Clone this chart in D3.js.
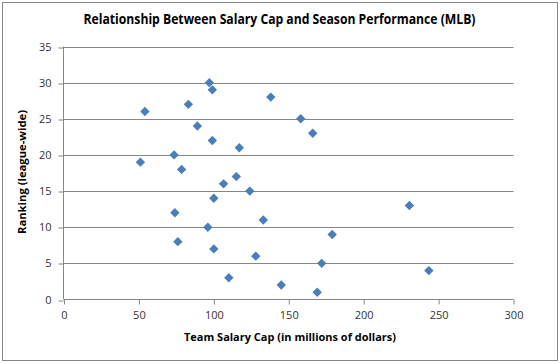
<!DOCTYPE html>
<html>
<head>
<meta charset="utf-8">
<script src="https://cdn.jsdelivr.net/npm/d3@7"></script>
<style>
  html, body { margin: 0; padding: 0; background: #fff; }
  svg { display: block; }
  text { font-family: "Open Sans", "Liberation Sans", sans-serif; }
</style>
</head>
<body>
<svg id="chart" width="560" height="364"></svg>
<script>
const salaryCap = [97, 99, 138, 83, 54, 158, 89, 166, 99, 117, 73.5, 51, 78.5, 115, 106.5, 124, 100, 230.5, 74, 133, 96, 179, 76, 100, 128, 172, 243.5, 110, 145, 169];
const ranking   = [30, 29, 28, 27, 26, 25, 24, 23, 22, 21, 20, 19, 18, 17, 16, 15, 14, 13, 12, 11, 10, 9, 8, 7, 6, 5, 4, 3, 2, 1];
const xTicks = [0, 50, 100, 150, 200, 250, 300];
const yTicks = [0, 5, 10, 15, 20, 25, 30, 35];
const titleText = "Relationship Between Salary Cap and Season Performance (MLB)";
const xTitle = "Team Salary Cap (in millions of dollars)";
const yTitle = "Ranking (league-wide)";

const svg = d3.select("#chart");
const grey = "#868686";
const labelColor = "#333";

svg.append("rect").attr("x", 2.5).attr("y", 2.5).attr("width", 555).attr("height", 358)
  .attr("fill", "#fff").attr("stroke", grey).attr("stroke-width", 1);

const x = d3.scaleLinear().domain([0, 300]).range([64, 513.5]);
const y = d3.scaleLinear().domain([0, 35]).range([299.5, 46.5]);

// gridlines
svg.append("g").selectAll("line").data(yTicks.filter(d => d > 0)).join("line")
  .attr("x1", x(0)).attr("x2", x(300))
  .attr("y1", d => Math.round(y(d)) + 0.5).attr("y2", d => Math.round(y(d)) + 0.5)
  .attr("stroke", grey).attr("stroke-width", 1);

// y axis
const yAxis = svg.append("g").attr("transform", `translate(${Math.round(x(0)) - 0.5},0)`)
  .call(d3.axisLeft(y).tickValues(yTicks).tickSize(5).tickPadding(7).tickFormat(d3.format("d")));
yAxis.select(".domain").attr("stroke", grey).attr("d", `M0,${y(35)}V${y(0)}`);
yAxis.selectAll(".tick line").attr("stroke", grey)
  .attr("transform", d => `translate(0,${Math.round(y(d)) + 0.5 - y(d)})`);
yAxis.selectAll(".tick text").attr("fill", labelColor).style("font-size", "11px")
  .style("font-family", "'Open Sans', 'Liberation Sans', sans-serif");

// x axis
const xAxis = svg.append("g").attr("transform", `translate(0,${Math.round(y(0)) - 0.5})`)
  .call(d3.axisBottom(x).tickValues(xTicks).tickSize(5).tickPadding(7).tickFormat(d3.format("d")));
xAxis.select(".domain").attr("stroke", grey).attr("d", `M${x(0)},0H${x(300)}`);
xAxis.selectAll(".tick line").attr("stroke", grey);
xAxis.selectAll(".tick text").attr("fill", labelColor).style("font-size", "11px")
  .style("font-family", "'Open Sans', 'Liberation Sans', sans-serif");

// points
svg.append("g").selectAll("path").data(salaryCap.map((v, i) => [v, ranking[i]])).join("path")
  .attr("d", d3.symbol().type(d3.symbolSquare).size(44))
  .attr("transform", d => `translate(${x(d[0])},${y(d[1])}) rotate(45)`)
  .attr("fill", "#4A7EBB");

// titles
svg.append("text").attr("x", 279.5).attr("y", 24).attr("text-anchor", "middle")
  .attr("font-weight", "bold").style("font-size", "13.5px").attr("fill", "#000")
  .attr("textLength", 392).attr("lengthAdjust", "spacingAndGlyphs")
  .text(titleText);

svg.append("text").attr("x", 290).attr("y", 341).attr("text-anchor", "middle")
  .attr("font-weight", "bold").style("font-size", "11px").attr("fill", "#000")
  .attr("textLength", 212).attr("lengthAdjust", "spacingAndGlyphs")
  .text(xTitle);

svg.append("text").attr("transform", "translate(26,172) rotate(-90)").attr("text-anchor", "middle")
  .attr("font-weight", "bold").style("font-size", "11px").attr("fill", "#000")
  .attr("textLength", 124).attr("lengthAdjust", "spacingAndGlyphs")
  .text(yTitle);
</script>
</body>
</html>
